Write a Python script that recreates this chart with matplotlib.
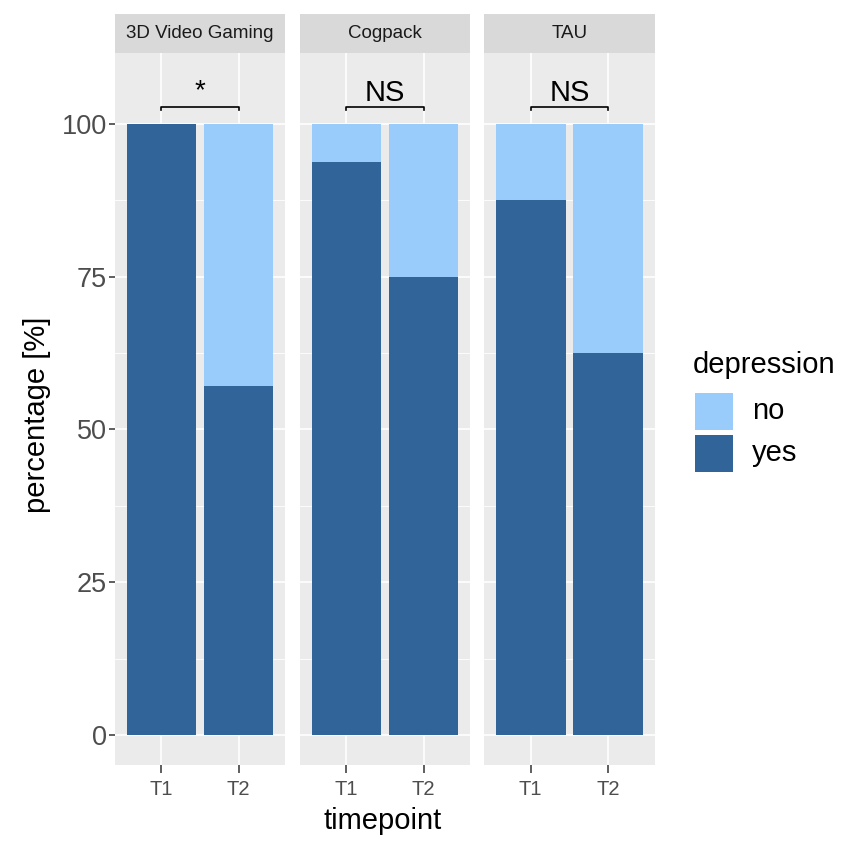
import matplotlib.pyplot as plt
from matplotlib.patches import Rectangle

plt.rcParams['font.family'] = ['Liberation Sans', 'DejaVu Sans']

groups = ['3D Video Gaming', 'Cogpack', 'TAU']
timepoints = ['T1', 'T2']
yes_pct = {'3D Video Gaming': [100.0, 57.1],
           'Cogpack': [93.75, 75.0],
           'TAU': [87.5, 62.5]}
signif = ['*', 'NS', 'NS']

col_yes = '#31659a'
col_no = '#99cbfb'
panel_bg = '#ebebeb'
strip_bg = '#d9d9d9'

W = H = 851
fig = plt.figure(figsize=(W / 100, H / 100), dpi=100)

# panel extents in pixels (left, right)
panels_px = [(115, 285), (300, 470), (484, 655)]
top_px, bot_px = 53, 765
strip_top = 14

ymin, ymax = -4.9, 111.6

for i, g in enumerate(groups):
    l, r = panels_px[i]
    ax = fig.add_axes([l / W, 1 - bot_px / H, (r - l) / W, (bot_px - top_px) / H])
    ax.set_facecolor(panel_bg)
    ax.set_xlim(0.4, 2.6)
    ax.set_ylim(ymin, ymax)
    for s in ax.spines.values():
        s.set_visible(False)
    # grid
    for yv in [12.5, 37.5, 62.5, 87.5]:
        ax.axhline(yv, color='white', lw=0.6, zorder=0)
    for yv in [0, 25, 50, 75, 100]:
        ax.axhline(yv, color='white', lw=1.2, zorder=0)
    for xv in [1, 2]:
        ax.axvline(xv, color='white', lw=1.2, zorder=0)

    x = [1, 2]
    yes = yes_pct[g]
    no = [100 - v for v in yes]
    ax.bar(x, yes, width=0.9, color=col_yes, zorder=2)
    ax.bar(x, no, width=0.9, bottom=yes, color=col_no, zorder=2)

    # significance bracket
    ax.plot([1, 1, 2, 2], [102.3, 102.8, 102.8, 102.3], color='black', lw=1.2, zorder=3)
    if signif[i] == '*':
        ax.text(1.5, 104.2, signif[i], ha='center', va='baseline', fontsize=20)
    else:
        ax.text(1.5, 103.8, signif[i], ha='center', va='baseline', fontsize=21)

    ax.set_xticks(x)
    ax.set_xticklabels(timepoints, fontsize=14.5, color='#4d4d4d')
    ax.tick_params(axis='x', length=6, width=1.1, color='#333333', pad=5)
    if i == 0:
        ax.set_yticks([0, 25, 50, 75, 100])
        ax.set_yticklabels(['0', '25', '50', '75', '100'], fontsize=19.5, color='#4d4d4d')
        ax.tick_params(axis='y', length=4, width=1.1, color='#333333', pad=2)
    else:
        ax.set_yticks([])

    # strip
    sax = fig.add_axes([l / W, 1 - top_px / H, (r - l) / W, (top_px - strip_top) / H])
    sax.set_facecolor(strip_bg)
    sax.set_xticks([])
    sax.set_yticks([])
    for s in sax.spines.values():
        s.set_visible(False)
    sax.text(0.5, 0.5, g, ha='center', va='center', fontsize=13.5,
             color='#1a1a1a', transform=sax.transAxes)

# axis titles
fig.text(37 / W, 1 - 415 / H, 'percentage [%]', rotation=90, fontsize=21,
         ha='center', va='center')
fig.text(383 / W, 1 - 821 / H, 'timepoint', fontsize=21, ha='center', va='center')

# legend
fig.text(693 / W, 1 - 365 / H, 'depression', fontsize=21, va='center', ha='left')
leg_items = [('no', col_no, 393), ('yes', col_yes, 435)]
for lab, c, ytop in leg_items:
    fig.patches.append(Rectangle((695 / W, 1 - (ytop + 37) / H), 38 / W, 37 / H,
                                 transform=fig.transFigure, facecolor=c, edgecolor='none'))
    fig.text(752 / W, 1 - (ytop + 18) / H, lab, fontsize=21, va='center', ha='left')

fig.savefig('out.png', dpi=100)
